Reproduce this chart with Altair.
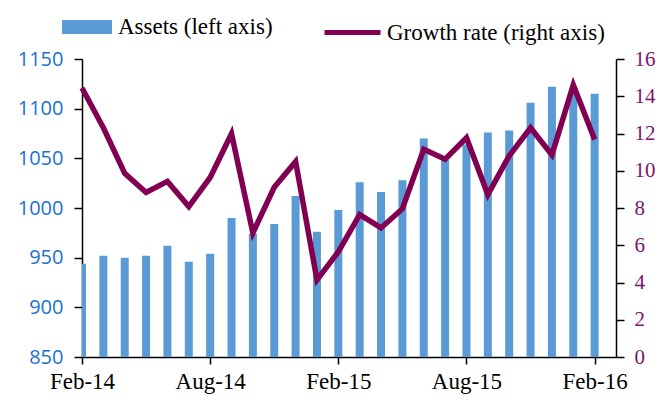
import altair as alt
import pandas as pd

months = ["Feb-14", "Mar-14", "Apr-14", "May-14", "Jun-14", "Jul-14", "Aug-14",
          "Sep-14", "Oct-14", "Nov-14", "Dec-14", "Jan-15", "Feb-15", "Mar-15",
          "Apr-15", "May-15", "Jun-15", "Jul-15", "Aug-15", "Sep-15", "Oct-15",
          "Nov-15", "Dec-15", "Jan-16", "Feb-16"]
assets = [944, 952, 950, 952, 962, 946, 954, 990, 974, 984, 1012, 976, 998,
          1026, 1016, 1028, 1070, 1048, 1064, 1076, 1078, 1106, 1122, 1118, 1115]
growth = [14.44, 12.31, 9.86, 8.83, 9.43, 8.08, 9.64, 11.99, 6.66, 9.11, 10.49,
          4.14, 5.65, 7.64, 6.93, 7.96, 11.15, 10.62, 11.77, 8.72, 10.80, 12.31,
          10.85, 14.61, 11.68]
tick_labels = ["Feb-14", "Aug-14", "Feb-15", "Aug-15", "Feb-16"]

df = pd.DataFrame({
    "idx": list(range(len(months))),
    "month": months,
    "assets": assets,
    "growth": growth,
    "s1": "Assets (left axis)",
    "s2": "Growth rate (right axis)",
})

BLUE = "#5B9BD5"
PURPLE = "#820052"
SERIF = "Liberation Serif"

label_expr = "[" + ",".join("'%s'" % t for t in tick_labels) + "][round(datum.value/6)]"

x = alt.X("idx:Q",
          scale=alt.Scale(domain=[0, 25], nice=False, zero=False, padding=0),
          axis=alt.Axis(values=[0, 6, 12, 18, 24], labelExpr=label_expr, title=None,
                        grid=False, domainColor="black", tickColor="black",
                        tickSize=7, domainWidth=1.5, tickWidth=1.5,
                        labelFont=SERIF, labelFontSize=23, labelColor="black",
                        labelPadding=6, labelFlush=False))

bars = alt.Chart(df).mark_bar(size=8, clip=True).encode(
    x=x,
    y=alt.Y("assets:Q",
            scale=alt.Scale(domain=[850, 1150], nice=False, zero=False),
            axis=alt.Axis(values=[850, 900, 950, 1000, 1050, 1100, 1150], title=None,
                          format="d", grid=False, orient="left", domainColor="black",
                          tickColor="black", tickSize=8, domainWidth=1.5, tickWidth=1.5,
                          labelFont="Open Sans", labelFontSize=20,
                          labelColor="#1A72D0", labelPadding=11)),
    fill=alt.Fill("s1:N", scale=alt.Scale(range=[BLUE]),
                  legend=alt.Legend(title=None, orient="none", legendX=-20, legendY=-57,
                                    symbolType="M-1,-0.28H1V0.28H-1Z", symbolSize=2500,
                                    symbolStrokeWidth=0, labelFont=SERIF,
                                    labelFontSize=23, labelColor="black", labelOffset=6,
                                    labelLimit=0)),
)

line = alt.Chart(df).mark_line(strokeWidth=5.5, color=PURPLE, strokeJoin="miter").encode(
    x=x,
    y=alt.Y("growth:Q",
            scale=alt.Scale(domain=[0, 16], nice=False, zero=False),
            axis=alt.Axis(values=[0, 2, 4, 6, 8, 10, 12, 14, 16], title=None,
                          grid=False, orient="right", domainColor="black",
                          tickColor="black", tickSize=8, domainWidth=1.5, tickWidth=1.5,
                          labelFont=SERIF, labelFontSize=21,
                          labelColor="#7A1670", labelPadding=10)),
    stroke=alt.Stroke("s2:N", scale=alt.Scale(range=[PURPLE]),
                      legend=alt.Legend(title=None, orient="none", legendX=240, legendY=-57,
                                        symbolType="stroke", symbolSize=3136,
                                        symbolStrokeWidth=5, labelFont=SERIF,
                                        labelFontSize=23, labelColor="black", labelOffset=4,
                                        labelLimit=0)),
)

chart = alt.layer(bars, line).resolve_scale(y="independent").properties(
    width=534, height=298,
    autosize=alt.AutoSizeParams(type="none"),
    padding={"left": 74, "top": 51, "right": 41, "bottom": 38},
).configure_view(stroke=None)

chart.save("out.html", embed_options={"renderer": "svg", "actions": False})
